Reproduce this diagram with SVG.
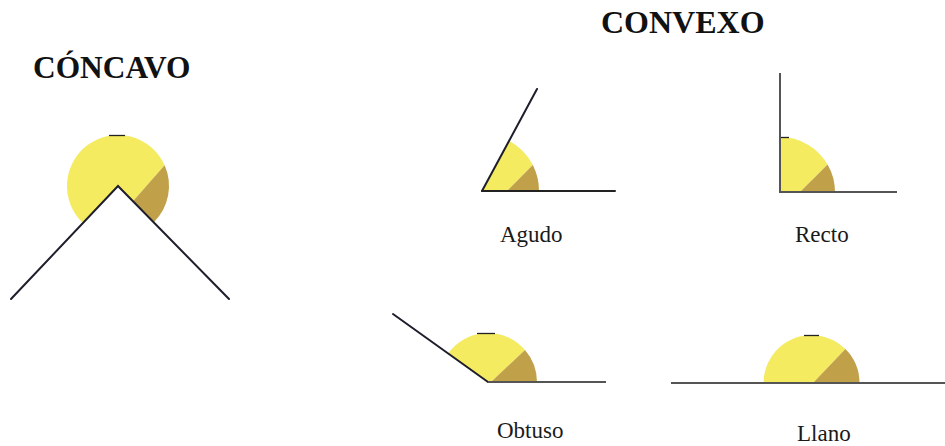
<svg xmlns="http://www.w3.org/2000/svg" width="945" height="446" viewBox="0 0 945 446">
<style>
.y{fill:#f4eb61}
.d{fill:#c0a049}
.ln{stroke:#1e1e2c;stroke-width:2;fill:none;stroke-linecap:round}
.hl{stroke:#555;stroke-width:2;fill:none}
.tk{stroke:#222;stroke-width:1.3}
.title{font-family:"Liberation Serif",serif;font-weight:bold;font-size:31.4px;fill:#111}
.lbl{font-family:"Liberation Serif",serif;font-size:23px;fill:#1a1a1a}
</style>
<rect width="945" height="446" fill="#fff"/>
<g id="concavo">
<path class="y" d="M118,186 L82.9,223 A51,51 0 1 1 164.6,165.3 L133,201.3 Z"/>
<path class="d" d="M133,201.3 L164.6,165.3 A51,51 0 0 1 153.7,222.4 Z"/>
<line class="tk" x1="109" y1="135.5" x2="125" y2="135.5"/>
<polyline class="ln" points="11,299 118,186 229,299"/>
<text class="title" x="33" y="78">CÓNCAVO</text>
</g>
<text id="convexo-title" class="title" x="601" y="33" style="font-size:32px">CONVEXO</text>
<g id="agudo">
<path class="y" d="M482,191 L509.05,140.8 A57,57 0 0 1 532.8,165.1 L507,191 Z"/>
<path class="d" d="M507,191 L532.8,165.1 A57,57 0 0 1 539,191 Z"/>
<line class="ln" x1="482" y1="191" x2="537" y2="89"/>
<line class="ln" x1="482" y1="191" x2="615" y2="191" style="stroke:#222"/>
<text class="lbl" x="500" y="242">Agudo</text>
</g>
<g id="recto">
<path class="y" d="M780,192 L780,137 A55,55 0 0 1 827.6,164.5 L800,192 Z"/>
<path class="d" d="M800,192 L827.6,164.5 A55,55 0 0 1 835,192 Z"/>
<line class="tk" x1="780" y1="137.5" x2="789" y2="137.5"/>
<polyline class="hl" points="780,73 780,192 897,192"/>
<text class="lbl" x="795" y="242">Recto</text>
</g>
<g id="obtuso">
<path class="y" d="M488,382 L448.1,353.5 A49,49 0 0 1 525,349.9 L491,382 Z"/>
<path class="d" d="M491,382 L525,349.9 A49,49 0 0 1 537,382 Z"/>
<line class="tk" x1="477" y1="333.5" x2="495" y2="333.5"/>
<line class="ln" x1="393" y1="314" x2="488" y2="382"/>
<line class="hl" x1="488" y1="382" x2="606" y2="382"/>
<text class="lbl" x="497" y="438">Obtuso</text>
</g>
<g id="llano">
<path class="y" d="M763.5,383 A48,48 0 0 1 845.4,349.1 L813,383 Z"/>
<path class="d" d="M813,383 L845.4,349.1 A48,48 0 0 1 859.5,383 Z"/>
<line class="tk" x1="804" y1="335.5" x2="819" y2="335.5"/>
<line class="hl" x1="671" y1="383" x2="945" y2="383"/>
<text class="lbl" x="797" y="441">Llano</text>
</g>
</svg>
